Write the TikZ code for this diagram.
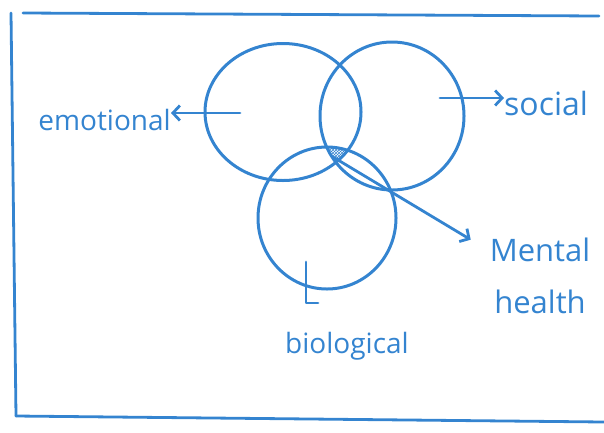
\documentclass[tikz,border=0pt]{standalone}
\usepackage{fontspec}
\setmainfont{Open Sans}
\usetikzlibrary{shapes.geometric,arrows.meta,patterns}
\definecolor{ink}{RGB}{52,132,208}
\begin{document}
\begin{tikzpicture}[x=1pt,y=-1pt,
  ring/.style={draw=ink, line width=3pt, ellipse, inner sep=0pt},
  lbl/.style={text=ink, font=\fontsize{28}{48}\selectfont, inner sep=0pt},
  conn/.style={draw=ink, line width=2.8pt, line cap=round, line join=round},
  tip/.style={-{Straight Barb[length=7pt,width=15pt,line width=2.8pt]}}]
\useasboundingbox (0,0) rectangle (604,432);
% open frame
\draw[conn] (23,13) -- (599,16);
\draw[conn] (11,13) -- (16,416);
\draw[conn] (16,416) -- (604,422);
% circles
\node[ring, minimum width=156pt, minimum height=137pt] (emo) at (283,112) {};
\node[ring, minimum width=144pt, minimum height=148pt] (soc) at (392,116) {};
\node[ring, minimum width=138pt, minimum height=142pt] (bio) at (327,218) {};
% hatched common area
\begin{scope}
  \clip (283,112) ellipse [x radius=78pt, y radius=68.5pt];
  \clip (392,116) ellipse [x radius=72pt, y radius=74pt];
  \clip (327,218) ellipse [x radius=69pt, y radius=71pt];
  \fill[pattern=crosshatch, pattern color=ink] (300,130) rectangle (370,190);
\end{scope}
% labels
\node[lbl, anchor=east] (emotional) at (171,120) {emotional};
\node[lbl, anchor=west, font=\fontsize{32}{40}\selectfont] (social) at (504,103) {social};
\node[lbl] (biological) at (347,346) {biological};
\node[lbl, align=center, font=\fontsize{31}{52}\selectfont] (mental) at (540,276) {Mental\\health};
% connectors
\coordinate (e1) at (240,113);
\coordinate (s1) at (440,98);
\coordinate (b1) at (306,262);
\coordinate (b2) at (318,303);
\coordinate (m1) at (333,157);
\draw[conn,tip] (e1) -- (e1 -| emotional.east);
\draw[conn,tip] (s1) -- (s1 -| social.west);
\draw[conn] (b1) |- (b2);
\draw[conn,tip,shorten >=22pt] (m1) -- (mental.west |- 0,251);
\end{tikzpicture}
\end{document}
